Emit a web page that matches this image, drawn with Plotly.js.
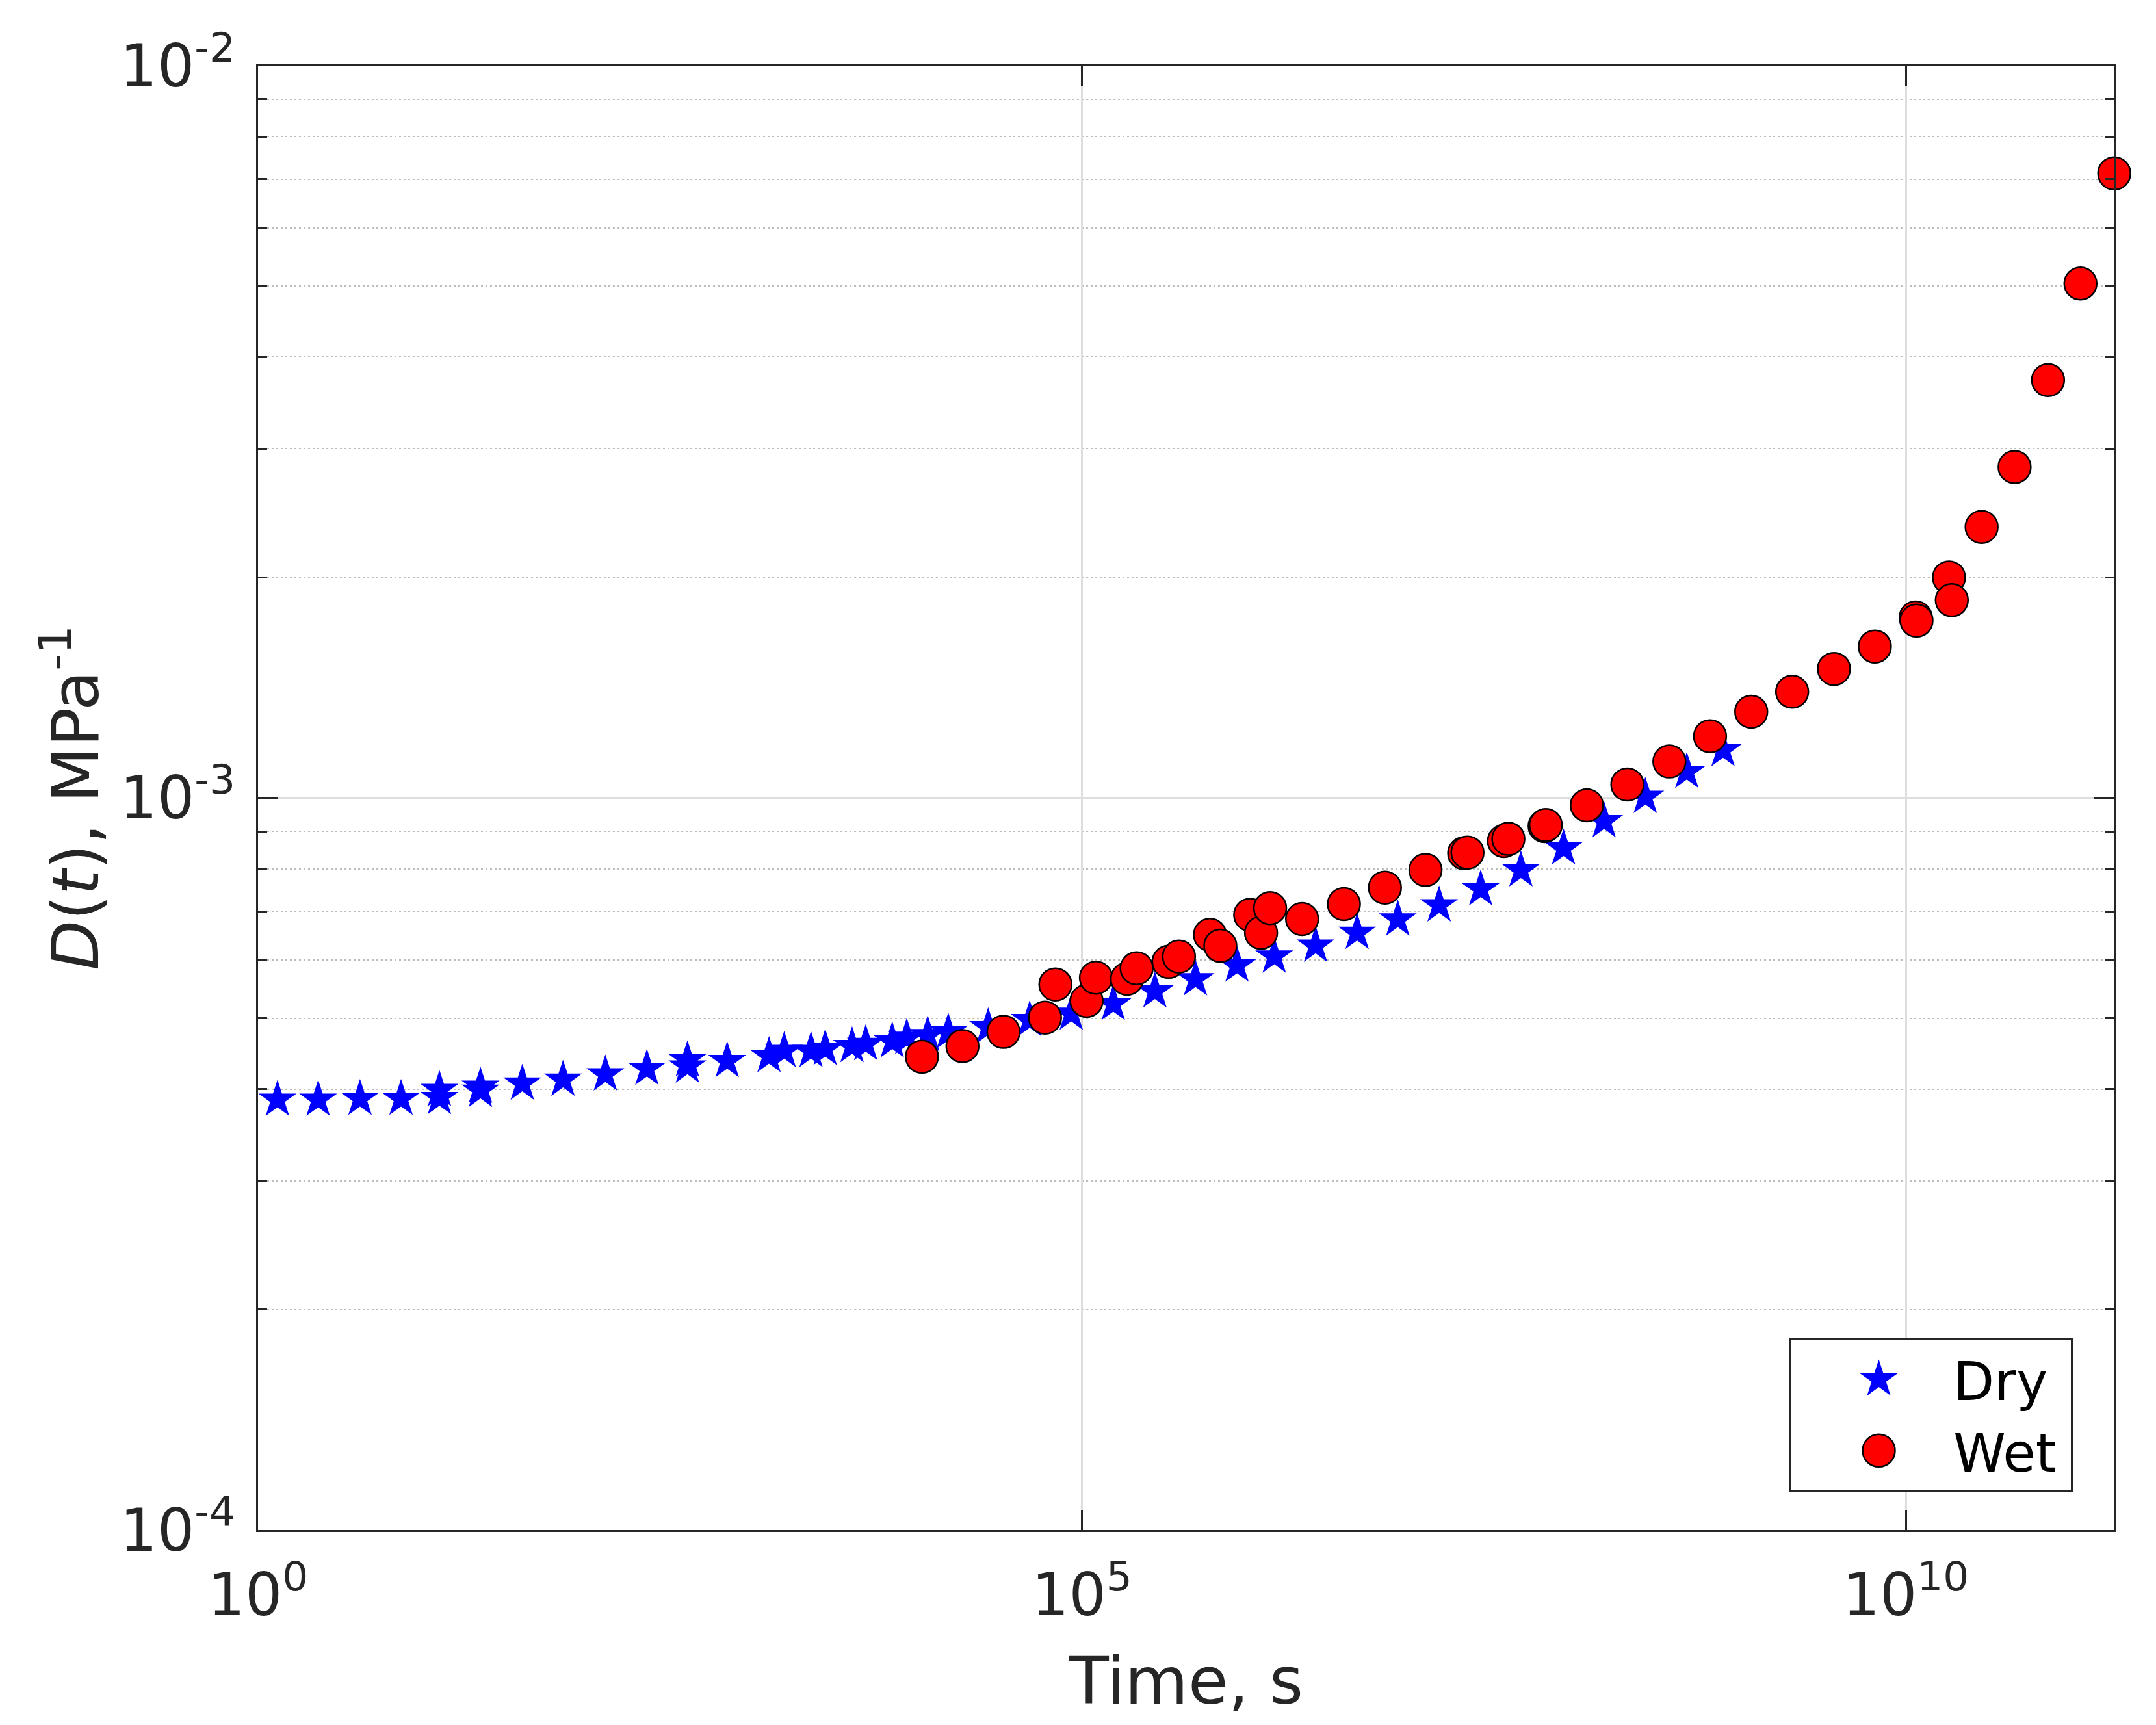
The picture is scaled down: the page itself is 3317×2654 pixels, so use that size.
<!DOCTYPE html>
<html><head><meta charset="utf-8">
<script src="https://cdn.plot.ly/plotly-3.0.1.min.js"></script>
<style>html,body{margin:0;padding:0;background:#fff}</style>
</head><body>
<div id="chart" style="width:3317px;height:2654px"></div>
<script>
// Dry series: time (s) and creep compliance D(t) (MPa^-1)
const dryTime = [1.312, 2.317, 4.159, 7.379, 12.62, 12.62, 22.39, 22.39, 40.18, 70.96,
  128.2, 229.1, 403.6, 403.6, 703.1, 1262, 1560, 2270, 2767, 4027,
  4875, 7063, 8650, 11590, 15450, 26980, 48190, 86100, 154900, 277300,
  488700, 873000, 1.469e6, 2.618e6, 4.677e6, 8.26e6, 1.472e7, 2.63e7, 4.613e7, 8.375e7,
  1.476e8, 2.624e8, 4.688e8, 7.78e8];
const dryD = [3.87e-4, 3.87e-4, 3.88e-4, 3.88e-4, 3.99e-4, 3.89e-4, 4.03e-4, 3.98e-4, 4.07e-4, 4.12e-4,
  4.19e-4, 4.265e-4, 4.38e-4, 4.295e-4, 4.37e-4, 4.44e-4, 4.51e-4, 4.51e-4, 4.54e-4, 4.58e-4,
  4.61e-4, 4.65e-4, 4.70e-4, 4.74e-4, 4.78e-4, 4.86e-4, 4.97e-4, 5.07e-4, 5.23e-4, 5.44e-4,
  5.65e-4, 5.90e-4, 6.07e-4, 6.28e-4, 6.54e-4, 6.82e-4, 7.13e-4, 7.50e-4, 7.96e-4, 8.53e-4,
  9.29e-4, 1.003e-3, 1.085e-3, 1.162e-3];
// Wet series
const wetTime = [10690, 18840, 33420, 59700, 69020, 106700, 121600, 187900, 214800, 335700,
  388100, 598400, 691800, 1.050e6, 1.222e6, 1.387e6, 2.168e6, 3.890e6, 6.902e6, 1.216e7,
  2.089e7, 2.188e7, 3.639e7, 3.873e7, 6.427e7, 6.531e7, 1.159e8, 2.042e8, 3.673e8, 6.486e8,
  1.153e9, 2.042e9, 3.664e9, 6.486e9, 1.148e10, 1.161e10, 1.828e10, 1.901e10, 2.884e10, 4.571e10,
  7.295e10, 1.148e11, 1.841e11];
const wetD = [4.43e-4, 4.58e-4, 4.79e-4, 5.01e-4, 5.56e-4, 5.28e-4, 5.68e-4, 5.66e-4, 5.85e-4, 5.97e-4,
  6.07e-4, 6.50e-4, 6.28e-4, 6.92e-4, 6.54e-4, 7.07e-4, 6.83e-4, 7.16e-4, 7.54e-4, 7.97e-4,
  8.40e-4, 8.42e-4, 8.73e-4, 8.79e-4, 9.15e-4, 9.18e-4, 9.77e-4, 1.043e-3, 1.121e-3, 1.214e-3,
  1.311e-3, 1.396e-3, 1.500e-3, 1.609e-3, 1.763e-3, 1.746e-3, 2.0e-3, 1.862e-3, 2.344e-3, 2.83e-3,
  3.72e-3, 5.04e-3, 7.125e-3];

const xTickVals = [1, 1e5, 1e10];
const xTickText = ['10<sup>0</sup>', '10<sup>5</sup>', '10<sup>10</sup>'];
const yTickVals = [1e-4, 1e-3, 1e-2];
const yTickText = ['10<sup>-4</sup>', '10<sup>-3</sup>', '10<sup>-2</sup>'];
const yMinorVals = [2e-4, 3e-4, 4e-4, 5e-4, 6e-4, 7e-4, 8e-4, 9e-4,
  2e-3, 3e-3, 4e-3, 5e-3, 6e-3, 7e-3, 8e-3, 9e-3];
const seriesNames = ['Dry\u2009', 'Wet\u2009'];

const FONT = 'DejaVu Sans, Liberation Sans, sans-serif';
const AX = '#262626';
const STAR_SIZE = 44, CIRCLE_SIZE = 50;

const traces = [
  {x: dryTime, y: dryD, name: seriesNames[0], type: 'scatter', mode: 'markers', cliponaxis: false,
   marker: {symbol: 'star', size: STAR_SIZE, color: '#0000ff', line: {width: 0}}},
  {x: wetTime, y: wetD, name: seriesNames[1], type: 'scatter', mode: 'markers', cliponaxis: false,
   marker: {symbol: 'circle', size: CIRCLE_SIZE, color: '#ff0000', line: {width: 2.5, color: '#000000'}}}
];

const layout = {
  width: 3317, height: 2654,
  margin: {l: 397, r: 64, t: 101, b: 300, pad: 0},
  paper_bgcolor: '#ffffff', plot_bgcolor: '#ffffff',
  font: {family: FONT, color: AX, size: 90},
  showlegend: true,
  xaxis: {
    type: 'log', range: [0, 11.266], autorange: false,
    tickmode: 'array', tickvals: xTickVals, ticktext: xTickText,
    ticks: 'inside', ticklen: 31, tickwidth: 3, tickcolor: AX,
    showline: true, linewidth: 3, linecolor: AX, mirror: 'allticks',
    showgrid: true, gridcolor: '#dedede', gridwidth: 3,
    zeroline: false,
    tickfont: {family: FONT, size: 90, color: AX},
    ticklabelstandoff: 20,
    title: {text: 'Time, s', font: {family: FONT, size: 100, color: AX}, standoff: 46}
  },
  yaxis: {
    type: 'log', range: [-4, -2], autorange: false,
    tickmode: 'array', tickvals: yTickVals, ticktext: yTickText,
    ticks: 'inside', ticklen: 31, tickwidth: 3, tickcolor: AX,
    showline: true, linewidth: 3, linecolor: AX, mirror: 'allticks',
    showgrid: true, gridcolor: '#dedede', gridwidth: 3,
    zeroline: false,
    tickfont: {family: FONT, size: 90, color: AX},
    ticklabelstandoff: 14,
    minor: {tickmode: 'array', tickvals: yMinorVals, ticks: 'inside', ticklen: 14, tickwidth: 3,
            tickcolor: AX, showgrid: true, gridcolor: '#bdbdbd', gridwidth: 2, griddash: '3px,4px'},
    title: {text: '<i>D</i>(<i>t</i>), MPa<sup>-1</sup>', font: {family: FONT, size: 100, color: AX}, standoff: 0}
  },
  legend: {
    x: 0.9776, xanchor: 'right', y: 0.026, yanchor: 'bottom',
    bgcolor: '#ffffff', bordercolor: AX, borderwidth: 3,
    font: {family: FONT, size: 82, color: '#000000'},
    itemwidth: 239, tracegroupgap: 0
  }
};

Plotly.newPlot('chart', traces, layout, {staticPlot: true, displayModeBar: false}).then(function(gd) {
  const pts = gd.querySelectorAll('.legend .traces');
  const scales = [STAR_SIZE / 16, CIRCLE_SIZE / 16];
  const strokes = [0, 2.5];
  pts.forEach(function(tr, i) {
    tr.querySelectorAll('path.scatterpts').forEach(function(p) {
      const t = p.getAttribute('transform') || '';
      p.setAttribute('transform', t + ' translate(10,0) scale(' + scales[i] + ')');
      if (strokes[i] > 0) p.style.strokeWidth = (strokes[i] / scales[i]) + 'px';
    });
  });
});
</script>
</body></html>
